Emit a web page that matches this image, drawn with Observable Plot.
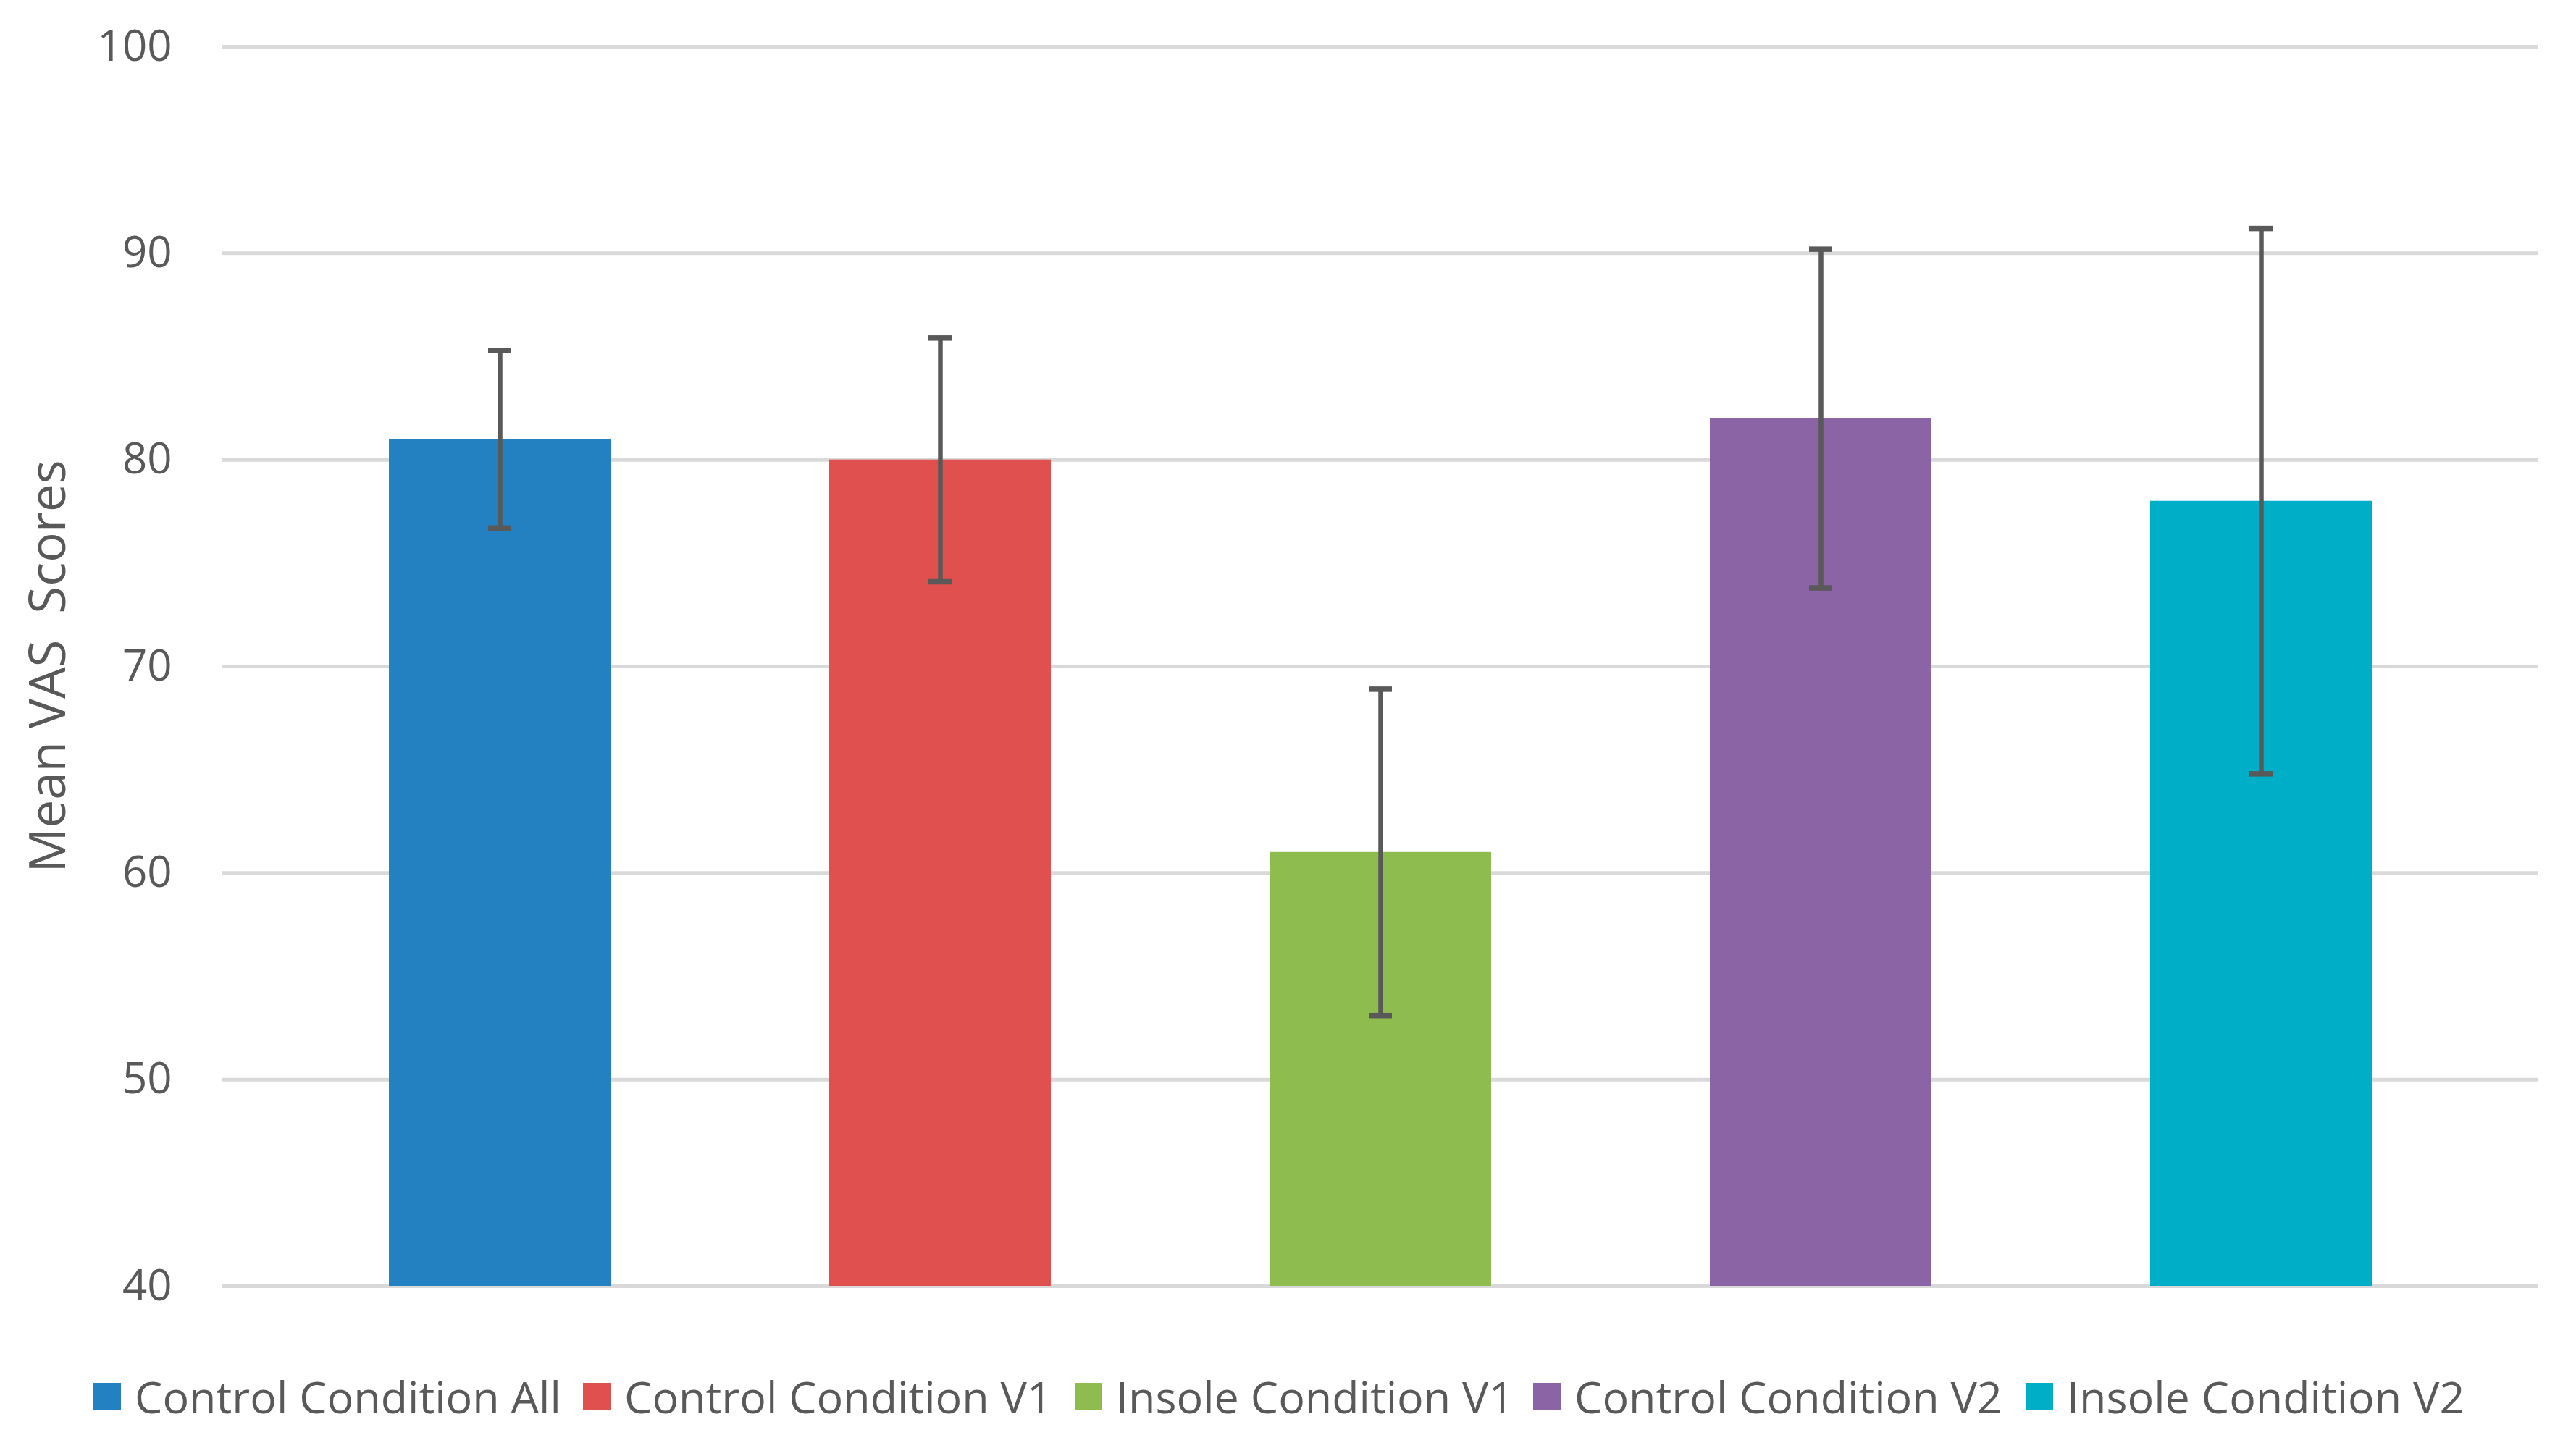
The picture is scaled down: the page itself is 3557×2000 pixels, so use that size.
<!DOCTYPE html>
<html>
<head>
<meta charset="utf-8">
<script src="https://cdn.jsdelivr.net/npm/d3@7"></script>
<script src="https://cdn.jsdelivr.net/npm/@observablehq/plot@0.6"></script>
<style>
  html, body { margin: 0; padding: 0; background: #ffffff; }
  #chart { width: 3557px; }
  #legend {
    width: 3557px; height: 144px; padding-top: 16px;
    display: flex; align-items: center;
    font-family: "Open Sans", sans-serif; font-size: 61px; color: #595959;
    box-sizing: content-box;
  }
  .item { display: flex; align-items: center; white-space: nowrap; flex: none; }
  .swatch { width: 38px; height: 37px; margin-right: 19px; flex: none; }
</style>
</head>
<body>
<div id="chart"></div>
<div id="legend"></div>
<script>
const categories = ["Control Condition All", "Control Condition V1", "Insole Condition V1", "Control Condition V2", "Insole Condition V2"];
const means = [81, 80, 61, 82, 78];
const errors = [4.3, 5.9, 7.9, 8.2, 13.2];
const colors = ["#2481C1", "#DF504E", "#8FBC4F", "#8B64A5", "#00AEC7"];
const yTicks = [40, 50, 60, 70, 80, 90, 100];
const yLabel = "Mean VAS  Scores";

const data = categories.map((c, i) => ({cat: c, mean: means[i], lo: means[i] - errors[i], hi: means[i] + errors[i]}));

const W = 3557, H = 1840;
const chart = Plot.plot({
  width: W,
  height: H,
  marginLeft: 306,
  marginRight: 52,
  marginTop: 64,
  marginBottom: 64,
  style: {fontFamily: "'Open Sans', sans-serif", fontSize: "59px", color: "#595959", background: "#ffffff"},
  x: {domain: categories, paddingInner: 0.497, paddingOuter: 0.376, axis: null},
  y: {domain: [yTicks[0], yTicks[yTicks.length - 1]], ticks: yTicks},
  color: {domain: categories, range: colors},
  marks: [
    Plot.ruleY(yTicks, {stroke: "#D9D9D9", strokeWidth: 5}),
    Plot.axisY({ticks: yTicks, tickSize: 0, tickPadding: 69, fill: "#595959", fontSize: 60,
      label: yLabel, labelAnchor: "center", labelArrow: "none", labelOffset: 266}),
    Plot.barY(data, {x: "cat", y1: () => yTicks[0], y2: "mean", fill: "cat"}),
    Plot.ruleX(data, {x: "cat", y1: "lo", y2: "hi", stroke: "#595959", strokeWidth: 6.5}),
    Plot.tickY(data, {x: "cat", y: "lo", stroke: "#595959", strokeWidth: 7.5, insetLeft: 137, insetRight: 137}),
    Plot.tickY(data, {x: "cat", y: "hi", stroke: "#595959", strokeWidth: 7.5, insetLeft: 137, insetRight: 137})
  ]
});
// make the y label larger like the reference
chart.querySelectorAll("[aria-label='y-axis label'] text").forEach(t => t.setAttribute("font-size", "69"));
document.getElementById("chart").appendChild(chart);

// legend
const itemWidths = [676, 679, 633, 680, null];
const legend = d3.select("#legend").style("padding-left", "129px").style("width", (W - 129) + "px");
categories.forEach((c, i) => {
  const item = legend.append("div").attr("class", "item");
  if (itemWidths[i]) item.style("width", itemWidths[i] + "px");
  item.append("div").attr("class", "swatch").style("background", colors[i]);
  item.append("span").text(c);
});
</script>
</body>
</html>
